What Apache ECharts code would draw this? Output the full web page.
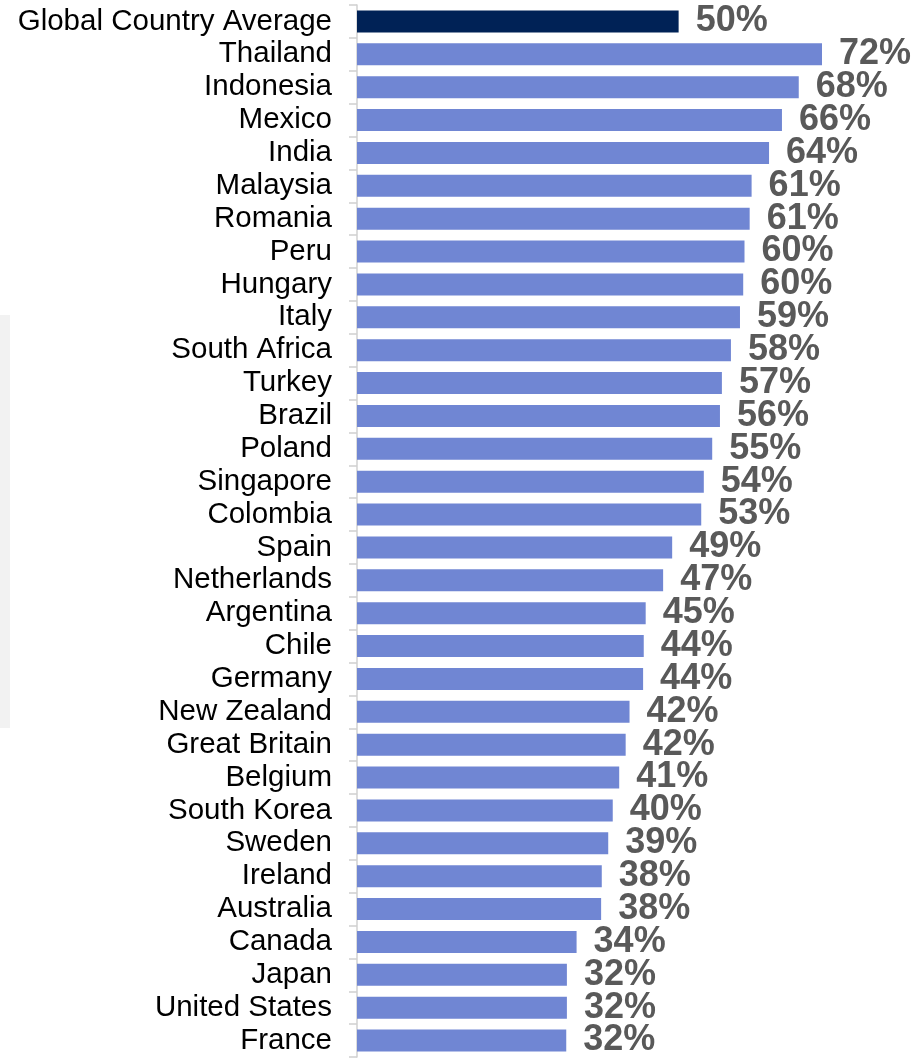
<!DOCTYPE html>
<html>
<head>
    <meta charset="UTF-8">
    <title>Country chart</title>
    <style>
        html, body { margin: 0; padding: 0; background: #fff; }
    </style>
</head>
<body>
    <div id="main" style="width: 915px;height:1058px;"></div>
    <script src="https://cdn.jsdelivr.net/npm/echarts@6/dist/echarts.min.js"></script>
    <script type="text/javascript">
        // categories, top to bottom
        var countries = ['Global Country Average', 'Thailand', 'Indonesia', 'Mexico', 'India', 'Malaysia',
            'Romania', 'Peru', 'Hungary', 'Italy', 'South Africa', 'Turkey', 'Brazil', 'Poland',
            'Singapore', 'Colombia', 'Spain', 'Netherlands', 'Argentina', 'Chile', 'Germany',
            'New Zealand', 'Great Britain', 'Belgium', 'South Korea', 'Sweden', 'Ireland',
            'Australia', 'Canada', 'Japan', 'United States', 'France'];
        // bar lengths (percent)
        var values = [49.8, 72.0, 68.4, 65.8, 63.8, 61.1, 60.8, 60.0, 59.8, 59.3, 57.9, 56.5, 56.2, 55.0,
            53.7, 53.3, 48.8, 47.4, 44.7, 44.4, 44.3, 42.2, 41.6, 40.6, 39.6, 38.9, 37.9,
            37.8, 34.0, 32.5, 32.5, 32.4];
        // printed labels
        var labels = ['50%', '72%', '68%', '66%', '64%', '61%', '61%', '60%', '60%', '59%', '58%', '57%',
            '56%', '55%', '54%', '53%', '49%', '47%', '45%', '44%', '44%', '42%', '42%', '41%', '40%',
            '39%', '38%', '38%', '34%', '32%', '32%', '32%'];

        var myChart = echarts.init(document.getElementById('main'));

        var barData = values.map(function (v, i) {
            return {
                value: v,
                itemStyle: { color: i === 0 ? '#002256' : '#7086d3' }
            };
        });

        myChart.setOption({
            animation: false,
            graphic: [{
                type: 'rect',
                left: 0,
                top: 315,
                shape: { width: 10, height: 413 },
                style: { fill: '#f2f2f2' }
            }],
            grid: { left: 357, right: 0, top: 5, bottom: 1 },
            xAxis: {
                type: 'value',
                min: 0,
                max: 86.4,
                show: false
            },
            yAxis: {
                type: 'category',
                inverse: true,
                data: countries,
                axisLine: { show: true, lineStyle: { color: '#d0d0d0', width: 1.5 } },
                axisTick: { show: true, length: 8, lineStyle: { color: '#d0d0d0', width: 1.5 } },
                axisLabel: {
                    interval: 0,
                    margin: 25,
                    padding: [4, 0, 0, 0],
                    color: '#000',
                    fontFamily: 'Liberation Sans, Arial, sans-serif',
                    fontSize: 29.5
                }
            },
            series: [{
                type: 'bar',
                data: barData,
                barWidth: 22,
                label: {
                    show: true,
                    position: 'right',
                    distance: 17,
                    padding: [3, 0, 0, 0],
                    color: '#595959',
                    fontFamily: 'Liberation Sans, Arial, sans-serif',
                    fontWeight: 'bold',
                    fontSize: 36,
                    formatter: function (p) { return labels[p.dataIndex]; }
                }
            }]
        });
    </script>
</body>
</html>
